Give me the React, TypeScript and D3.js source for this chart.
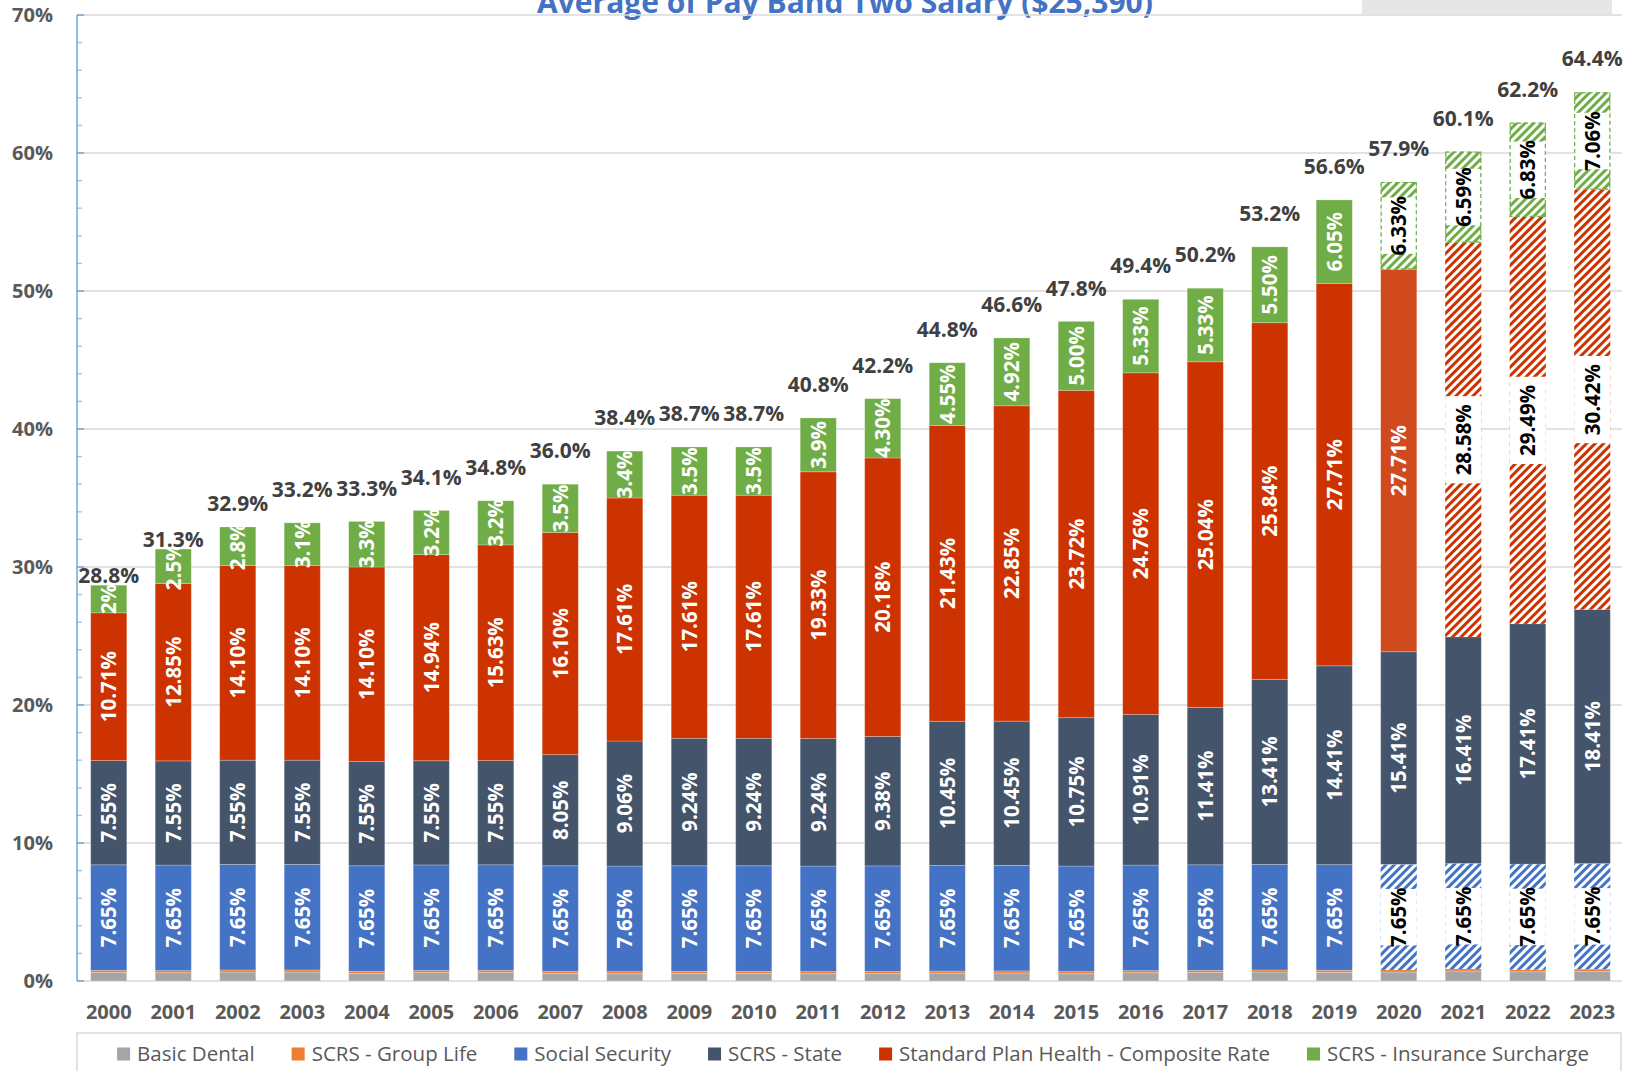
import React, { useEffect, useRef } from "react";
import * as d3 from "d3";

// chart data (percent of a $25,390 salary)
const years = [
  "2000", "2001", "2002", "2003", "2004", "2005", "2006", "2007",
  "2008", "2009", "2010", "2011", "2012", "2013", "2014", "2015",
  "2016", "2017", "2018", "2019", "2020", "2021", "2022", "2023",
];
const basicDental = [
  0.62, 0.6, 0.65, 0.65, 0.55, 0.61, 0.62, 0.55, 0.53, 0.55, 0.55, 0.53,
  0.54, 0.57, 0.58, 0.53, 0.6, 0.62, 0.65, 0.63, 0.65, 0.72, 0.67, 0.71,
];
const groupLife = [
  0.15, 0.15, 0.15, 0.15, 0.15, 0.15, 0.15, 0.15, 0.15, 0.15, 0.15, 0.15,
  0.15, 0.15, 0.15, 0.15, 0.15, 0.15, 0.15, 0.15, 0.15, 0.15, 0.15, 0.15,
];
const socialSecurity = [
  7.65, 7.65, 7.65, 7.65, 7.65, 7.65, 7.65, 7.65, 7.65, 7.65, 7.65, 7.65,
  7.65, 7.65, 7.65, 7.65, 7.65, 7.65, 7.65, 7.65, 7.65, 7.65, 7.65, 7.65,
];
const scrsState = [
  7.55, 7.55, 7.55, 7.55, 7.55, 7.55, 7.55, 8.05, 9.06, 9.24, 9.24, 9.24,
  9.38, 10.45, 10.45, 10.75, 10.91, 11.41, 13.41, 14.41, 15.41, 16.41, 17.41, 18.41,
];
const healthRate = [
  10.71, 12.85, 14.1, 14.1, 14.1, 14.94, 15.63, 16.1, 17.61, 17.61, 17.61, 19.33,
  20.18, 21.43, 22.85, 23.72, 24.76, 25.04, 25.84, 27.71, 27.71, 28.58, 29.49, 30.42,
];
// surcharge labels keep their own number of decimals
const surchargeText = [
  "2%", "2.5%", "2.8%", "3.1%", "3.3%", "3.2%", "3.2%", "3.5%",
  "3.4%", "3.5%", "3.5%", "3.9%", "4.30%", "4.55%", "4.92%", "5.00%",
  "5.33%", "5.33%", "5.50%", "6.05%", "6.33%", "6.59%", "6.83%", "7.06%",
];
const totals = [
  28.8, 31.3, 32.9, 33.2, 33.3, 34.1, 34.8, 36.0, 38.4, 38.7, 38.7, 40.8,
  42.2, 44.8, 46.6, 47.8, 49.4, 50.2, 53.2, 56.6, 57.9, 60.1, 62.2, 64.4,
];
const yTicks = [0, 10, 20, 30, 40, 50, 60, 70];

const series = [
  { key: "dental", name: "Basic Dental", color: "#A5A5A5", values: basicDental },
  { key: "life", name: "SCRS - Group Life", color: "#ED7D31", values: groupLife },
  { key: "ss", name: "Social Security", color: "#4472C4", values: socialSecurity },
  { key: "state", name: "SCRS - State", color: "#44546A", values: scrsState },
  { key: "health", name: "Standard Plan Health - Composite Rate", color: "#CC3300", values: healthRate },
  { key: "surcharge", name: "SCRS - Insurance Surcharge", color: "#70AD47", values: surchargeText.map((s) => parseFloat(s)) },
];

const width = 1635;
const height = 1071;

export default function App() {
  const container = useRef<SVGSVGElement>(null);

  useEffect(() => {
    document.body.style.margin = "0";
    const svg = d3.select(container.current);
    svg.selectAll("*").remove();

    const font = "'Open Sans', 'DejaVu Sans', sans-serif";
    const left = 77;
    const right = 1622;

    const x = d3
      .scaleBand()
      .domain(years)
      .range([76.5, 1624.5])
      .paddingInner(0.44)
      .paddingOuter(0.22);
    const y = d3.scaleLinear().domain([0, 70]).range([981, 15]);

    const rows = years.map((yr, i) => {
      const r: any = { year: yr };
      series.forEach((s) => (r[s.key] = s.values[i]));
      return r;
    });
    const stacked = d3.stack().keys(series.map((s) => s.key))(rows);

    // hatch patterns for the projected years
    const defs = svg.append("defs");
    [
      ["hatch-ss", "#4472C4"],
      ["hatch-health", "#CC3300"],
      ["hatch-surcharge", "#70AD47"],
    ].forEach(([id, c]) => {
      const p = defs
        .append("pattern")
        .attr("id", id)
        .attr("patternUnits", "userSpaceOnUse")
        .attr("width", 6)
        .attr("height", 6)
        .attr("patternTransform", "rotate(45)");
      p.append("rect").attr("width", 6).attr("height", 6).attr("fill", "white");
      p.append("rect").attr("width", 3).attr("height", 6).attr("fill", c);
    });

    // title (cut off at the top like the original)
    svg
      .append("text")
      .attr("x", 845)
      .attr("y", 13)
      .attr("text-anchor", "middle")
      .style("font-family", font)
      .style("font-weight", 700)
      .style("font-size", "30px")
      .style("fill", "#4472C4")
      .text("Average of Pay Band Two Salary ($25,390)");
    svg
      .append("rect")
      .attr("x", 1362)
      .attr("y", 0)
      .attr("width", 250)
      .attr("height", 14)
      .attr("fill", "#E7E6E6");

    // gridlines
    svg
      .append("g")
      .selectAll("line")
      .data(yTicks.filter((t) => t > 0))
      .enter()
      .append("line")
      .attr("x1", left)
      .attr("x2", right)
      .attr("y1", (d) => y(d))
      .attr("y2", (d) => y(d))
      .attr("stroke", "#D9D9D9")
      .attr("stroke-width", 1.5);

    // x axis line
    svg
      .append("line")
      .attr("x1", left)
      .attr("x2", right)
      .attr("y1", y(0))
      .attr("y2", y(0))
      .attr("stroke", "#D9D9D9")
      .attr("stroke-width", 1.5);

    // y axis with minor ticks
    const yAxis = svg.append("g");
    yAxis
      .selectAll("line.minor")
      .data(d3.range(0, 71, 2))
      .enter()
      .append("line")
      .attr("x1", left)
      .attr("x2", (d) => (d % 10 === 0 ? left + 7 : left + 5))
      .attr("y1", (d) => y(d))
      .attr("y2", (d) => y(d))
      .attr("stroke", (d) => (d % 10 === 0 ? "#5B9BD5" : "#9DC3E6"))
      .attr("stroke-width", 1.3);
    yAxis
      .append("line")
      .attr("x1", left)
      .attr("x2", left)
      .attr("y1", y(70))
      .attr("y2", y(0))
      .attr("stroke", "#5B9BD5")
      .attr("stroke-width", 1.3);
    yAxis
      .selectAll("text")
      .data(yTicks)
      .enter()
      .append("text")
      .attr("x", 53)
      .attr("y", (d) => y(d))
      .attr("dy", "0.36em")
      .attr("text-anchor", "end")
      .style("font-family", font)
      .style("font-weight", 700)
      .style("font-size", "20px")
      .style("fill", "#595959")
      .text((d) => d + "%");

    // x labels
    svg
      .append("g")
      .selectAll("text")
      .data(years)
      .enter()
      .append("text")
      .attr("x", (d) => (x(d) as number) + x.bandwidth() / 2)
      .attr("y", 1019)
      .attr("text-anchor", "middle")
      .style("font-family", font)
      .style("font-weight", 700)
      .style("font-size", "20px")
      .style("fill", "#595959")
      .text((d) => d);

    const projected = (i: number) => i >= 20;
    const fillFor = (key: string, i: number, base: string) => {
      if (key === "ss" && projected(i)) return "url(#hatch-ss)";
      if (key === "surcharge" && projected(i)) return "url(#hatch-surcharge)";
      if (key === "health" && i >= 21) return "url(#hatch-health)";
      if (key === "health" && i === 20) return "#D04A1E";
      return base;
    };
    const isHatched = (key: string, i: number) =>
      (projected(i) && (key === "ss" || key === "surcharge")) || (key === "health" && i >= 21);

    // bars
    const bars = svg.append("g");
    stacked.forEach((layer, li) => {
      const s = series[li];
      bars
        .append("g")
        .selectAll("rect")
        .data(layer)
        .enter()
        .append("rect")
        .attr("x", (d: any) => x(d.data.year) as number)
        .attr("width", x.bandwidth())
        .attr("y", (d) => y(d[1]))
        .attr("height", (d) => y(d[0]) - y(d[1]))
        .attr("fill", (d, i) => fillFor(s.key, i, s.color))
        .attr("stroke", (d, i) => (isHatched(s.key, i) ? "none" : "#ffffff"))
        .attr("stroke-opacity", 0.3)
        .attr("stroke-width", 0.8);
    });

    // segment labels
    const labelKeys = ["ss", "state", "health", "surcharge"];
    const labels = svg.append("g");
    stacked.forEach((layer, li) => {
      const s = series[li];
      if (!labelKeys.includes(s.key)) return;
      layer.forEach((d: any, i) => {
        const cx = (x(d.data.year) as number) + x.bandwidth() / 2;
        const cy = (y(d[0]) + y(d[1])) / 2;
        const txt = s.key === "surcharge" ? surchargeText[i] : s.values[i].toFixed(2) + "%";
        const hatched = isHatched(s.key, i);
        const g = labels.append("g").attr("transform", `translate(${cx},${cy})`);
        const t = g
          .append("text")
          .attr("transform", "rotate(-90)")
          .attr("text-anchor", "middle")
          .attr("dy", "0.36em")
          .style("font-family", font)
          .style("font-weight", 700)
          .style("font-size", "20.5px")
          .style("fill", hatched ? "#000000" : "#ffffff")
          .text(txt);
        if (hatched) {
          const len = (t.node() as SVGTextElement).getComputedTextLength();
          const boxH = s.key === "health" ? len + 16 : len - 3;
          g.insert("rect", "text")
            .attr("x", -x.bandwidth() / 2)
            .attr("width", x.bandwidth())
            .attr("y", -boxH / 2)
            .attr("height", boxH)
            .attr("fill", "white");
        }
        if (s.key === "surcharge" && hatched) {
          labels
            .append("rect")
            .attr("x", (x(d.data.year) as number) + 0.5)
            .attr("width", x.bandwidth() - 1)
            .attr("y", y(d[1]) + 0.5)
            .attr("height", y(d[0]) - y(d[1]) - 1)
            .attr("fill", "none")
            .attr("stroke", "#70AD47")
            .attr("stroke-width", 1.2)
            .attr("stroke-dasharray", "4,3");
        }
      });
    });

    // total labels above the bars (the first ones sit lower, as in the original)
    const top = stacked[stacked.length - 1];
    const lift = (i: number) => (i <= 1 ? 0.7 : i === 2 ? 1.7 : 2.42);
    svg
      .append("g")
      .selectAll("text")
      .data(top)
      .enter()
      .append("text")
      .attr("x", (d: any) => (x(d.data.year) as number) + x.bandwidth() / 2)
      .attr("y", (d, i) => y(d[1] + lift(i)))
      .attr("dy", "0.36em")
      .attr("text-anchor", "middle")
      .style("font-family", font)
      .style("font-weight", 700)
      .style("font-size", "21px")
      .style("fill", "#404040")
      .text((d, i) => totals[i].toFixed(1) + "%");

    // legend
    svg
      .append("rect")
      .attr("x", 77)
      .attr("y", 1033)
      .attr("width", 1544)
      .attr("height", 60)
      .attr("fill", "white")
      .attr("stroke", "#D9D9D9")
      .attr("stroke-width", 1.5);
    const legend = svg.append("g");
    const items = series.map((s) => {
      const g = legend.append("g");
      g.append("rect").attr("width", 13).attr("height", 13).attr("y", 1047.5).attr("fill", s.color);
      const t = g
        .append("text")
        .attr("x", 20)
        .attr("y", 1061)
        .style("font-family", font)
        .style("font-size", "20.5px")
        .style("fill", "#595959")
        .text(s.name);
      const w = 20 + (t.node() as SVGTextElement).getComputedTextLength();
      return { g, w };
    });
    const gap = 37;
    const totalW = d3.sum(items, (it) => it.w) + gap * (items.length - 1);
    let cursor = 853 - totalW / 2;
    items.forEach((it) => {
      it.g.attr("transform", `translate(${cursor},0)`);
      cursor += it.w + gap;
    });
  }, []);

  return (
    <svg
      ref={container}
      width={width}
      height={height}
      style={{ display: "block", background: "white", overflow: "hidden" }}
    />
  );
}
